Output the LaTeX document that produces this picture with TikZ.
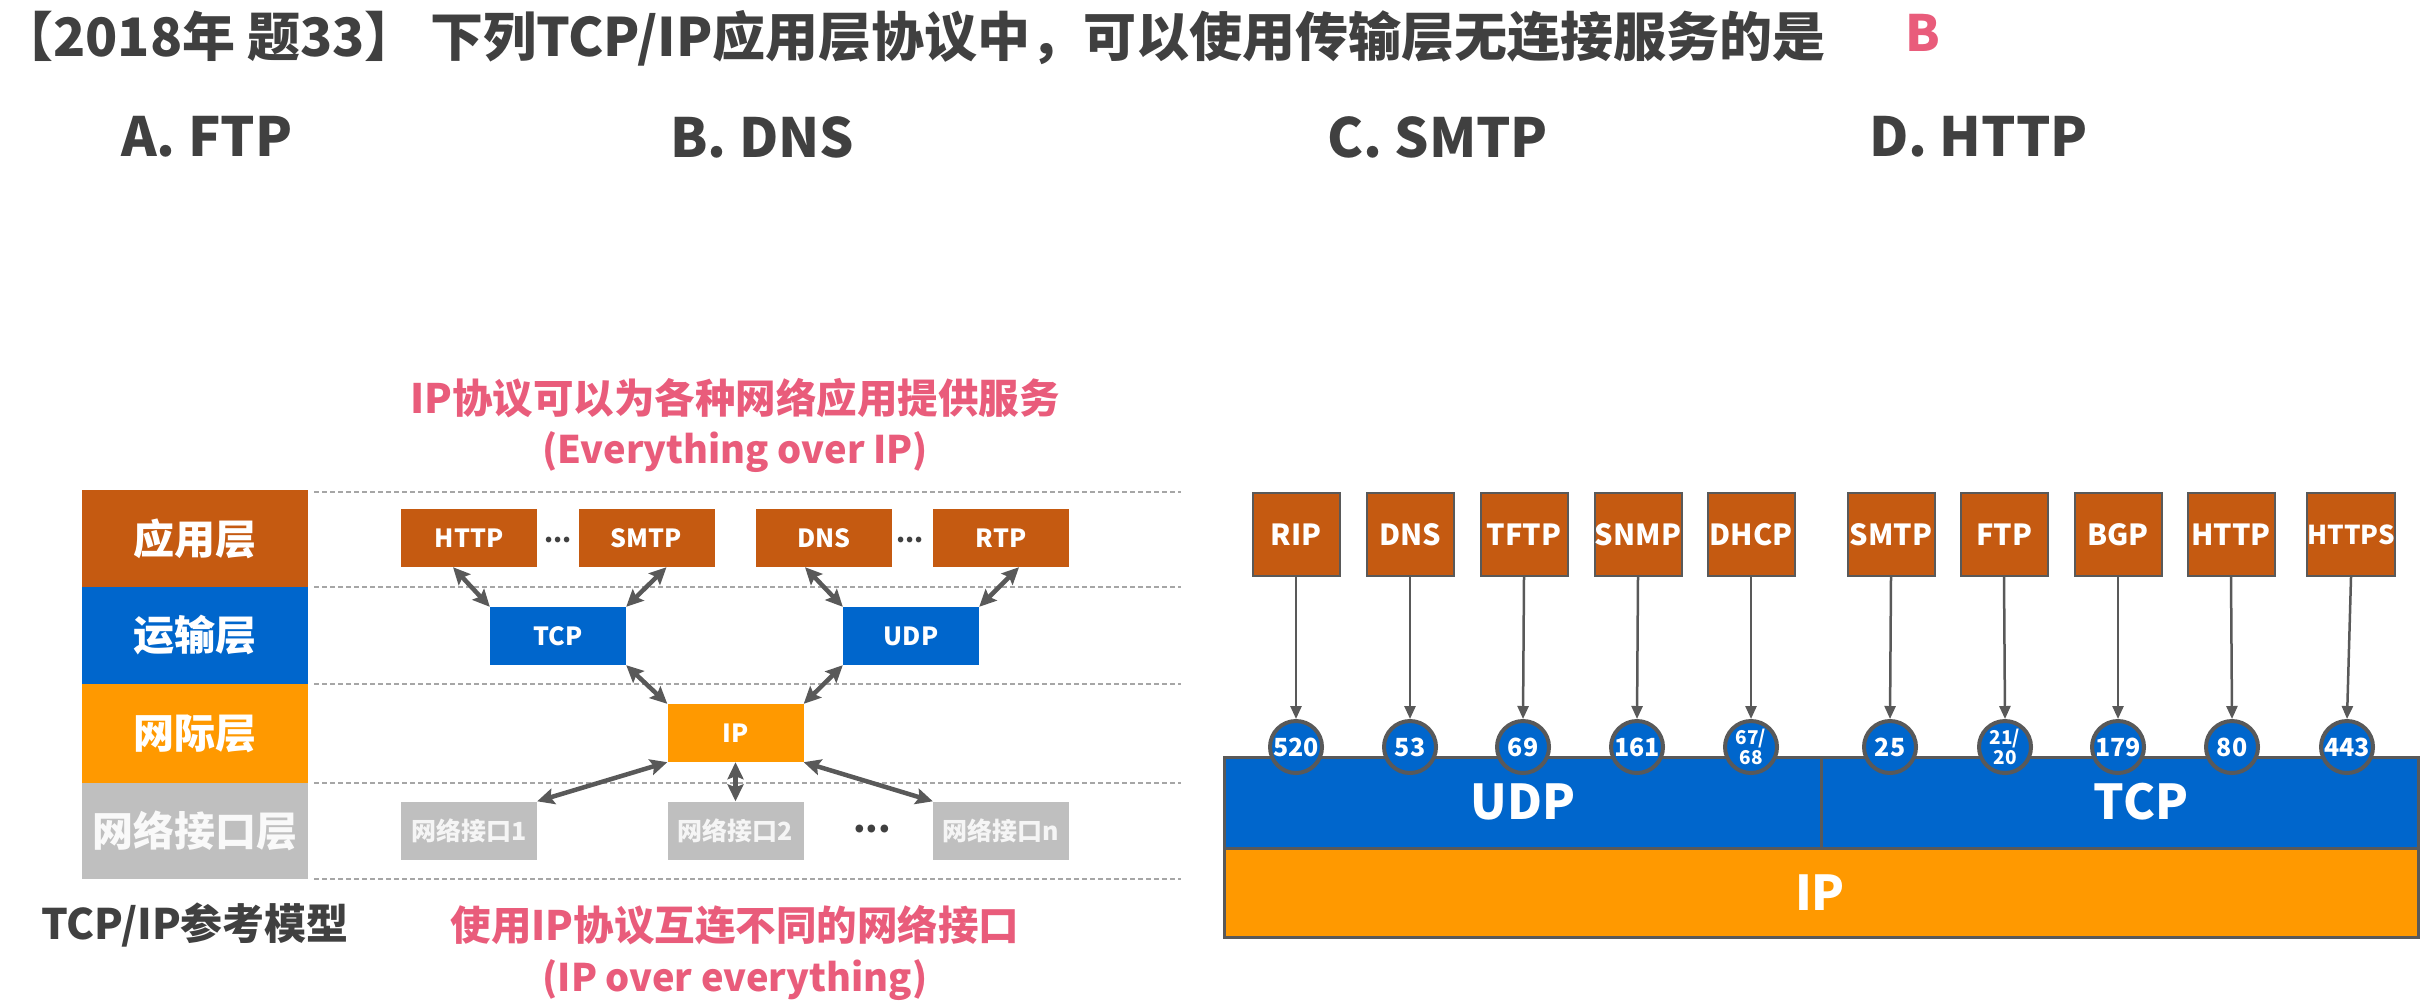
\documentclass[tikz,border=0pt]{standalone}
\usepackage{fontspec}
\setmainfont{Noto Sans CJK SC}
\usetikzlibrary{arrows.meta,calc}
\newcommand\fs[1]{\fontsize{#1}{#1}\selectfont}
\definecolor{appc}{HTML}{C55A11}
\definecolor{tcpc}{HTML}{0066CC}
\definecolor{ipc}{HTML}{FF9900}
\definecolor{nic}{HTML}{BFBFBF}
\definecolor{pinkc}{HTML}{E95C7B}
\definecolor{txtc}{HTML}{404040}
\definecolor{arrc}{HTML}{595959}
\definecolor{dotc}{HTML}{A6A6A6}
\begin{document}
\begin{tikzpicture}[x=1pt,y=-1pt,
  lay/.style={minimum width=226pt, inner sep=0, text=white, font=\fs{41}\bfseries},
  lbox/.style={minimum width=136pt, minimum height=58pt, inner sep=0, text=white, font=\fs{25}\bfseries},
  sep/.style={draw=dotc, line width=2pt, dash pattern=on 5pt off 3pt},
  dar/.style={<->, >={Stealth[length=17pt,width=16pt,inset=3pt]}, line width=4.5pt, draw=arrc},
  rbox/.style={draw=arrc, line width=2pt, fill=appc, minimum width=87pt, minimum height=83pt, inner sep=0, text=white, font=\fs{29}\bfseries},
  port/.style={circle, draw=arrc, line width=4pt, fill=tcpc, minimum size=52pt, inner sep=0, text=white, font=\fs{25}\bfseries, align=center},
  port2/.style={port, font=\fontsize{19}{20}\selectfont\bfseries},
  rar/.style={-{Triangle[length=13pt,width=11pt]}, line width=2.5pt, draw=arrc},
  bar/.style={draw=arrc, line width=3pt, inner sep=0},
  big/.style={text=white, font=\fs{48}\bfseries, inner sep=0},
  pink/.style={text=pinkc, font=\fs{40.5}\bfseries, inner sep=0},
  pinken/.style={pink, font=\fs{38}\bfseries},
  dots/.style={text=txtc, font=\fs{26}\bfseries, inner sep=0},
  opt/.style={anchor=west, text=txtc, font=\fs{54}\bfseries, inner sep=0}
]
\useasboundingbox (0,0) rectangle (2430,1005);
\fill[white] (0,0) rectangle (2430,1005);

% ---- title ----
\node[anchor=west, inner sep=0, font=\fs{53}\bfseries, text=txtc] (title) at (0,38)
  {【2018年 题33】 下列TCP/IP应用层协议中，可以使用传输层无连接服务的是};
\node[text=pinkc, font=\fs{50}\bfseries, inner sep=0] (ans) at (1923,33) {B};
\node[opt] (oa) at (121,137) {A. FTP};
\node[opt] (ob) at (670,137) {B. DNS};
\node[opt] (oc) at (1327,137) {C. SMTP};
\node[opt] (od) at (1869,137) {D. HTTP};

% ---- left: layer column ----
\node[lay, fill=appc, minimum height=97pt] (L1) at (195,538.5) {应用层};
\node[lay, fill=tcpc, minimum height=97pt] (L2) at (195,635.5) {运输层};
\node[lay, fill=ipc, minimum height=99pt] (L3) at (195,733.5) {网际层};
\node[lay, fill=nic, minimum height=96pt, text=white!95!gray] (L4) at (195,831) {网络接口层};

\draw[sep] (314,492) -- (1181,492);
\draw[sep] (314,587) -- (1181,587);
\draw[sep] (314,684) -- (1181,684);
\draw[sep] (314,783) -- (1181,783);
\draw[sep] (314,879) -- (1181,879);

\node[pink] (p1) at (735,398) {IP协议可以为各种网络应用提供服务};
\node[pinken] (p2) at (735,452) {(Everything over IP)};
\node[pink] (p3) at (735,925) {使用IP协议互连不同的网络接口};
\node[pinken] (p4) at (735,980) {(IP over everything)};
\node[text=txtc, font=\fs{42}\bfseries, inner sep=0] (model) at (195,925) {TCP/IP参考模型};

% app boxes
\node[lbox, fill=appc] (http) at (469,538) {HTTP};
\node[lbox, fill=appc] (smtp) at (646.5,538) {SMTP};
\node[lbox, fill=appc] (dns) at (824,538) {DNS};
\node[lbox, fill=appc] (rtp) at (1001,538) {RTP};
\node[dots] (d1) at (558,540) {...};
\node[dots] (d2) at (910,540) {...};
% transport
\node[lbox, fill=tcpc] (tcp) at (558,636) {TCP};
\node[lbox, fill=tcpc] (udp) at (911,636) {UDP};
% ip
\node[lbox, fill=ipc] (ip) at (735.5,733) {IP};
% net interfaces
\node[lbox, fill=nic, text=white!92!gray] (n1) at (469,830.5) {网络接口1};
\node[lbox, fill=nic, text=white!92!gray] (n2) at (735.5,830.5) {网络接口2};
\node[lbox, fill=nic, text=white!92!gray] (nn) at (1001,830.5) {网络接口n};
\node[dots, font=\fs{36}\bfseries] (d3) at (872,829) {...};

\draw[dar] ($(http.south)+(-16,0)$) -- (tcp.north west);
\draw[dar] ($(smtp.south)+(20,0)$) -- (tcp.north east);
\draw[dar] ($(dns.south)+(-19,0)$) -- (udp.north west);
\draw[dar] ($(rtp.south)+(18,0)$) -- (udp.north east);
\draw[dar] (tcp.south east) -- (ip.north west);
\draw[dar] (udp.south west) -- (ip.north east);
\draw[dar] (ip.south west) -- (n1.north east);
\draw[dar] (ip.south) -- (n2.north);
\draw[dar] (ip.south east) -- (nn.north west);

% ---- right panel ----
\node[bar, fill=tcpc, minimum width=597pt, minimum height=91pt] (udpbar) at (1522.5,802.5) {};
\node[bar, fill=tcpc, minimum width=597pt, minimum height=91pt] (tcpbar) at (2119.5,802.5) {};
\node[bar, fill=ipc, minimum width=1194pt, minimum height=89pt] (ipbar) at (1821,892.5) {};
\node[big] (udpl) at (1523,802) {UDP};
\node[big] (tcpl) at (2141,802) {TCP};
\node[big] (ipl) at (1820,893) {IP};

\node[rbox] (rip) at (1296,534.5) {RIP};
\node[rbox] (rdns) at (1410,534.5) {DNS};
\node[rbox] (tftp) at (1524,534.5) {TFTP};
\node[rbox] (snmp) at (1638,534.5) {SNMP};
\node[rbox] (dhcp) at (1751,534.5) {DHCP};
\node[rbox] (rsmtp) at (1891,534.5) {SMTP};
\node[rbox] (ftp) at (2004,534.5) {FTP};
\node[rbox] (bgp) at (2118,534.5) {BGP};
\node[rbox] (rhttp) at (2231,534.5) {HTTP};
\node[rbox, font=\fs{26}\bfseries] (https) at (2351,534.5) {HTTPS};

\node[port] (c1) at (1296,747) {520};
\node[port] (c2) at (1410,747) {53};
\node[port] (c3) at (1523,747) {69};
\node[port] (c4) at (1637,747) {161};
\node[port2] (c5) at (1751,747) {67/\\68};
\node[port] (c6) at (1890,747) {25};
\node[port2] (c7) at (2005,747) {21/\\20};
\node[port] (c8) at (2118,747) {179};
\node[port] (c9) at (2232,747) {80};
\node[port] (c10) at (2347,747) {443};

\draw[rar] (rip.south) -- (c1.north);
\draw[rar] (rdns.south) -- (c2.north);
\draw[rar] (tftp.south) -- (c3.north);
\draw[rar] (snmp.south) -- (c4.north);
\draw[rar] (dhcp.south) -- (c5.north);
\draw[rar] (rsmtp.south) -- (c6.north);
\draw[rar] (ftp.south) -- (c7.north);
\draw[rar] (bgp.south) -- (c8.north);
\draw[rar] (rhttp.south) -- (c9.north);
\draw[rar] (https.south) -- (c10.north);
\end{tikzpicture}
\end{document}
